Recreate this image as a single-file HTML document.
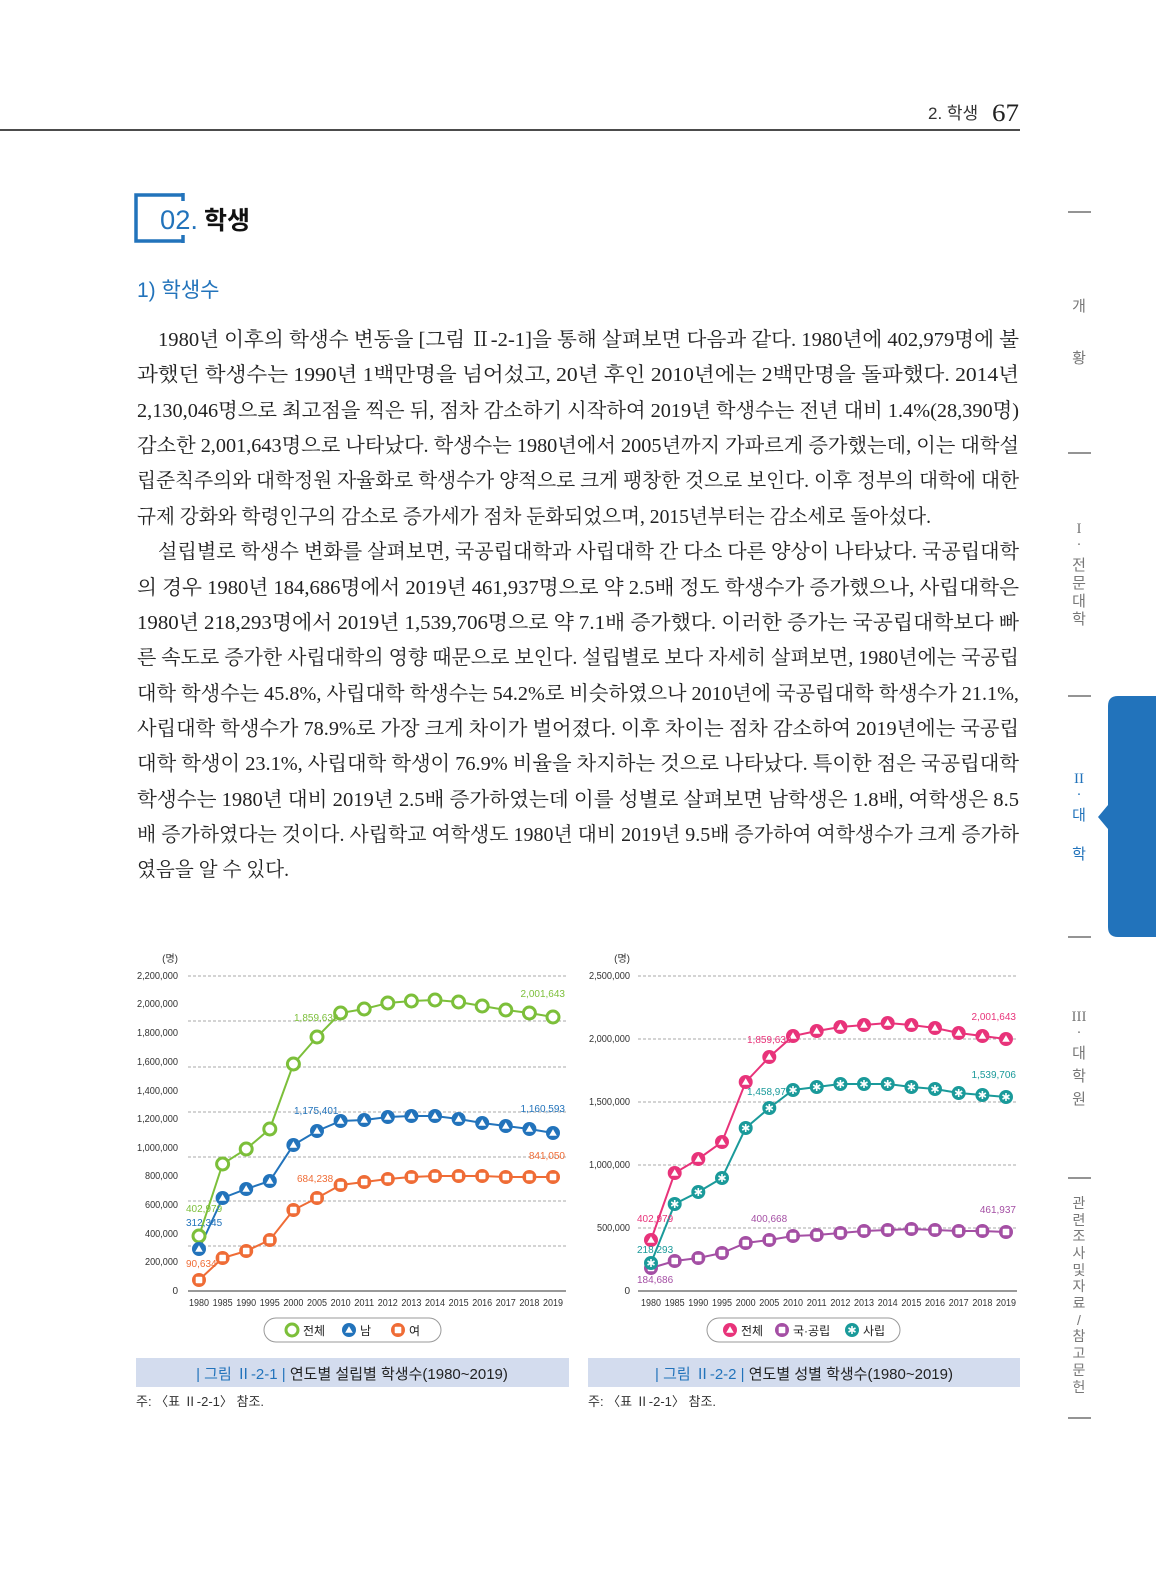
<!DOCTYPE html>
<html><head><meta charset="utf-8"><style>
body{margin:0;background:#fff;}
#p{position:relative;width:1159px;height:1571px;overflow:hidden;background:#fff;font-family:"Liberation Sans","Noto Sans CJK KR",sans-serif;}
.a{position:absolute;}
</style></head><body><div id="p">
<svg class="a" style="left:0;top:0" width="1159" height="1571" xmlns="http://www.w3.org/2000/svg">
<defs>
<g id="mG"><circle r="6" fill="#fff" stroke="#7cbf3a" stroke-width="3"/></g>
<g id="mB"><circle r="7" fill="#2273bb"/><path d="M0,-3.8 L3.8,2.8 L-3.8,2.8Z" fill="#fff"/></g>
<g id="mO"><circle r="7" fill="#ef6c36"/><rect x="-3.3" y="-3.3" width="6.6" height="6.6" rx="1" fill="#fff"/></g>
<g id="mP"><circle r="7" fill="#e8337a"/><path d="M0,-3.8 L3.8,2.8 L-3.8,2.8Z" fill="#fff"/></g>
<g id="mV"><circle r="7" fill="#a44fa4"/><rect x="-3.3" y="-3.3" width="6.6" height="6.6" rx="1" fill="#fff"/></g>
<g id="mT"><circle r="7" fill="#1a9a9a"/><path d="M0,-4V4M-3.5,-2L3.5,2M-3.5,2L3.5,-2" stroke="#fff" stroke-width="1.6"/></g>
</defs>
<line x1="0" y1="130" x2="1020" y2="130" stroke="#111" stroke-width="1.5"/>
<text x="928" y="119" font-size="17" fill="#333" font-family="Liberation Sans,Noto Sans CJK KR,sans-serif">2. 학생</text>
<text x="992" y="121" font-size="25" fill="#222" font-family="Liberation Serif,serif" textLength="27" lengthAdjust="spacingAndGlyphs">67</text>
<path d="M183,195 H136 V241 H183" fill="none" stroke="#2273bb" stroke-width="3.5"/>
<path d="M183,193 v8 M183,243 v-8" stroke="#2273bb" stroke-width="3.5"/>
<text x="160" y="229" font-size="27" fill="#2273bb" textLength="38" lengthAdjust="spacingAndGlyphs">02.</text>
<text x="204" y="229" font-size="25" font-weight="bold" fill="#111">학생</text>
<text x="137" y="297" font-size="21" fill="#2273bb">1) 학생수</text>
<g font-family="Liberation Serif,Noto Serif CJK KR,serif" font-size="20" fill="#222">
<text x="158" y="346" textLength="861" lengthAdjust="spacingAndGlyphs">1980년 이후의 학생수 변동을 [그림 Ⅱ-2-1]을 통해 살펴보면 다음과 같다. 1980년에 402,979명에 불</text>
<text x="137" y="381" textLength="882" lengthAdjust="spacingAndGlyphs">과했던  학생수는  1990년  1백만명을  넘어섰고,  20년  후인  2010년에는  2백만명을  돌파했다.  2014년</text>
<text x="137" y="417" textLength="882" lengthAdjust="spacingAndGlyphs">2,130,046명으로 최고점을 찍은 뒤, 점차 감소하기 시작하여 2019년 학생수는 전년 대비 1.4%(28,390명)</text>
<text x="137" y="452" textLength="882" lengthAdjust="spacingAndGlyphs">감소한 2,001,643명으로 나타났다. 학생수는 1980년에서 2005년까지 가파르게 증가했는데, 이는 대학설</text>
<text x="137" y="487" textLength="882" lengthAdjust="spacingAndGlyphs">립준칙주의와 대학정원 자율화로 학생수가 양적으로 크게 팽창한 것으로 보인다. 이후 정부의 대학에 대한</text>
<text x="137" y="523" textLength="794" lengthAdjust="spacingAndGlyphs">규제 강화와 학령인구의 감소로 증가세가 점차 둔화되었으며, 2015년부터는 감소세로 돌아섰다.</text>
<text x="158" y="558" textLength="861" lengthAdjust="spacingAndGlyphs">설립별로 학생수 변화를 살펴보면, 국공립대학과 사립대학 간 다소 다른 양상이 나타났다. 국공립대학</text>
<text x="137" y="594" textLength="882" lengthAdjust="spacingAndGlyphs">의 경우 1980년 184,686명에서 2019년 461,937명으로 약 2.5배 정도 학생수가 증가했으나, 사립대학은</text>
<text x="137" y="629" textLength="882" lengthAdjust="spacingAndGlyphs">1980년 218,293명에서 2019년 1,539,706명으로 약 7.1배 증가했다. 이러한 증가는 국공립대학보다 빠</text>
<text x="137" y="664" textLength="882" lengthAdjust="spacingAndGlyphs">른 속도로 증가한 사립대학의 영향 때문으로 보인다. 설립별로 보다 자세히 살펴보면, 1980년에는 국공립</text>
<text x="137" y="700" textLength="882" lengthAdjust="spacingAndGlyphs">대학 학생수는 45.8%, 사립대학 학생수는 54.2%로 비슷하였으나 2010년에 국공립대학 학생수가 21.1%,</text>
<text x="137" y="735" textLength="882" lengthAdjust="spacingAndGlyphs">사립대학 학생수가 78.9%로 가장 크게 차이가 벌어졌다. 이후 차이는 점차 감소하여 2019년에는 국공립</text>
<text x="137" y="770" textLength="882" lengthAdjust="spacingAndGlyphs">대학 학생이 23.1%, 사립대학 학생이 76.9% 비율을 차지하는 것으로 나타났다. 특이한 점은 국공립대학</text>
<text x="137" y="806" textLength="882" lengthAdjust="spacingAndGlyphs">학생수는 1980년 대비 2019년 2.5배 증가하였는데 이를 성별로 살펴보면 남학생은 1.8배, 여학생은 8.5</text>
<text x="137" y="841" textLength="882" lengthAdjust="spacingAndGlyphs">배 증가하였다는 것이다. 사립학교 여학생도 1980년 대비 2019년 9.5배 증가하여 여학생수가 크게 증가하</text>
<text x="137" y="876" textLength="152" lengthAdjust="spacingAndGlyphs">였음을 알 수 있다.</text>
</g>
<g stroke="#555" stroke-width="1.3">
<line x1="1068" y1="212" x2="1091" y2="212"/><line x1="1068" y1="453" x2="1091" y2="453"/>
<line x1="1068" y1="696" x2="1091" y2="696"/><line x1="1068" y1="937" x2="1091" y2="937"/>
<line x1="1068" y1="1178" x2="1091" y2="1178"/><line x1="1068" y1="1418" x2="1091" y2="1418"/>
</g>
<path d="M1118,696 H1156 V937 H1118 Q1108,937 1108,927 V829 L1098,817 L1108,805 V706 Q1108,696 1118,696Z" fill="#2273bb"/>
<g font-size="15" fill="#777" text-anchor="middle">
<text x="1079" y="311">개</text><text x="1079" y="363">황</text>
<text x="1079" y="533" font-family="Liberation Serif,serif">I</text><text x="1079" y="548">·</text>
<text x="1079" y="570">전</text><text x="1079" y="588">문</text><text x="1079" y="606">대</text><text x="1079" y="624">학</text>
<text x="1079" y="1021" font-family="Liberation Serif,serif">III</text><text x="1079" y="1036">·</text>
<text x="1079" y="1058">대</text><text x="1079" y="1081">학</text><text x="1079" y="1104">원</text>
</g>
<g font-size="14" fill="#777" text-anchor="middle">
<text x="1079" y="1208">관</text><text x="1079" y="1225">련</text><text x="1079" y="1241">조</text><text x="1079" y="1258">사</text><text x="1079" y="1275">및</text><text x="1079" y="1291">자</text><text x="1079" y="1308">료</text><text x="1079" y="1325">/</text><text x="1079" y="1341">참</text><text x="1079" y="1358">고</text><text x="1079" y="1375">문</text><text x="1079" y="1392">헌</text>
</g>
<g font-size="15" fill="#2273bb" text-anchor="middle">
<text x="1079" y="783" font-family="Liberation Serif,serif">II</text><text x="1079" y="798">·</text>
<text x="1079" y="820">대</text><text x="1079" y="859">학</text>
</g>
<g stroke="#aaa" stroke-width="1" stroke-dasharray="3,2">
<line x1="188" y1="976" x2="566" y2="976"/><line x1="188" y1="1021" x2="566" y2="1021"/>
<line x1="188" y1="1067" x2="566" y2="1067"/><line x1="188" y1="1112" x2="566" y2="1112"/>
<line x1="188" y1="1157" x2="566" y2="1157"/><line x1="188" y1="1201" x2="566" y2="1201"/>
<line x1="188" y1="1246" x2="566" y2="1246"/>
<line x1="638" y1="976" x2="1017" y2="976"/><line x1="638" y1="1039" x2="1017" y2="1039"/>
<line x1="638" y1="1102" x2="1017" y2="1102"/><line x1="638" y1="1165" x2="1017" y2="1165"/>
<line x1="638" y1="1228" x2="1017" y2="1228"/>
</g>
<line x1="188" y1="1291" x2="566" y2="1291" stroke="#999" stroke-width="2"/>
<line x1="638" y1="1291" x2="1017" y2="1291" stroke="#999" stroke-width="2"/>
<g font-size="10" fill="#333" text-anchor="end">
<text x="178" y="962">(명)</text>
<text x="178" y="979" textLength="41" lengthAdjust="spacingAndGlyphs">2,200,000</text>
<text x="178" y="1007" textLength="41" lengthAdjust="spacingAndGlyphs">2,000,000</text>
<text x="178" y="1036" textLength="41" lengthAdjust="spacingAndGlyphs">1,800,000</text>
<text x="178" y="1065" textLength="41" lengthAdjust="spacingAndGlyphs">1,600,000</text>
<text x="178" y="1094" textLength="41" lengthAdjust="spacingAndGlyphs">1,400,000</text>
<text x="178" y="1122" textLength="41" lengthAdjust="spacingAndGlyphs">1,200,000</text>
<text x="178" y="1151" textLength="41" lengthAdjust="spacingAndGlyphs">1,000,000</text>
<text x="178" y="1179" textLength="33" lengthAdjust="spacingAndGlyphs">800,000</text>
<text x="178" y="1208" textLength="33" lengthAdjust="spacingAndGlyphs">600,000</text>
<text x="178" y="1237" textLength="33" lengthAdjust="spacingAndGlyphs">400,000</text>
<text x="178" y="1265" textLength="33" lengthAdjust="spacingAndGlyphs">200,000</text>
<text x="178" y="1294">0</text>
<text x="630" y="962">(명)</text>
<text x="630" y="979" textLength="41" lengthAdjust="spacingAndGlyphs">2,500,000</text>
<text x="630" y="1042" textLength="41" lengthAdjust="spacingAndGlyphs">2,000,000</text>
<text x="630" y="1105" textLength="41" lengthAdjust="spacingAndGlyphs">1,500,000</text>
<text x="630" y="1168" textLength="41" lengthAdjust="spacingAndGlyphs">1,000,000</text>
<text x="630" y="1231" textLength="33" lengthAdjust="spacingAndGlyphs">500,000</text>
<text x="630" y="1294">0</text>
</g>
<g font-size="10" fill="#333" text-anchor="middle">
<text x="199" y="1306" textLength="20" lengthAdjust="spacingAndGlyphs">1980</text><text x="222.6" y="1306" textLength="20" lengthAdjust="spacingAndGlyphs">1985</text><text x="246.2" y="1306" textLength="20" lengthAdjust="spacingAndGlyphs">1990</text><text x="269.8" y="1306" textLength="20" lengthAdjust="spacingAndGlyphs">1995</text><text x="293.4" y="1306" textLength="20" lengthAdjust="spacingAndGlyphs">2000</text><text x="317" y="1306" textLength="20" lengthAdjust="spacingAndGlyphs">2005</text><text x="340.6" y="1306" textLength="20" lengthAdjust="spacingAndGlyphs">2010</text><text x="364.2" y="1306" textLength="20" lengthAdjust="spacingAndGlyphs">2011</text><text x="387.8" y="1306" textLength="20" lengthAdjust="spacingAndGlyphs">2012</text><text x="411.4" y="1306" textLength="20" lengthAdjust="spacingAndGlyphs">2013</text><text x="435" y="1306" textLength="20" lengthAdjust="spacingAndGlyphs">2014</text><text x="458.6" y="1306" textLength="20" lengthAdjust="spacingAndGlyphs">2015</text><text x="482.2" y="1306" textLength="20" lengthAdjust="spacingAndGlyphs">2016</text><text x="505.8" y="1306" textLength="20" lengthAdjust="spacingAndGlyphs">2017</text><text x="529.4" y="1306" textLength="20" lengthAdjust="spacingAndGlyphs">2018</text><text x="553" y="1306" textLength="20" lengthAdjust="spacingAndGlyphs">2019</text>
<text x="651" y="1306" textLength="20" lengthAdjust="spacingAndGlyphs">1980</text><text x="674.7" y="1306" textLength="20" lengthAdjust="spacingAndGlyphs">1985</text><text x="698.3" y="1306" textLength="20" lengthAdjust="spacingAndGlyphs">1990</text><text x="722" y="1306" textLength="20" lengthAdjust="spacingAndGlyphs">1995</text><text x="745.7" y="1306" textLength="20" lengthAdjust="spacingAndGlyphs">2000</text><text x="769.3" y="1306" textLength="20" lengthAdjust="spacingAndGlyphs">2005</text><text x="793" y="1306" textLength="20" lengthAdjust="spacingAndGlyphs">2010</text><text x="816.7" y="1306" textLength="20" lengthAdjust="spacingAndGlyphs">2011</text><text x="840.4" y="1306" textLength="20" lengthAdjust="spacingAndGlyphs">2012</text><text x="864" y="1306" textLength="20" lengthAdjust="spacingAndGlyphs">2013</text><text x="887.7" y="1306" textLength="20" lengthAdjust="spacingAndGlyphs">2014</text><text x="911.4" y="1306" textLength="20" lengthAdjust="spacingAndGlyphs">2015</text><text x="935" y="1306" textLength="20" lengthAdjust="spacingAndGlyphs">2016</text><text x="958.7" y="1306" textLength="20" lengthAdjust="spacingAndGlyphs">2017</text><text x="982.4" y="1306" textLength="20" lengthAdjust="spacingAndGlyphs">2018</text><text x="1006" y="1306" textLength="20" lengthAdjust="spacingAndGlyphs">2019</text>
</g>
<polyline fill="none" stroke="#7cbf3a" stroke-width="2" points="199,1236 222.6,1164 246.2,1149 269.8,1129 293.4,1064 317,1037 340.6,1013 364.2,1009 387.8,1003 411.4,1001 435,1000 458.6,1002 482.2,1006 505.8,1010 529.4,1013 553,1017"/>
<polyline fill="none" stroke="#2273bb" stroke-width="2" points="199,1249 222.6,1198 246.2,1189 269.8,1181 293.4,1145 317,1131 340.6,1121 364.2,1120 387.8,1117 411.4,1116 435,1116 458.6,1119 482.2,1123 505.8,1126 529.4,1129 553,1133"/>
<polyline fill="none" stroke="#ef6c36" stroke-width="2" points="199,1280 222.6,1258 246.2,1251 269.8,1240 293.4,1210 317,1198 340.6,1185 364.2,1182 387.8,1179 411.4,1177 435,1176 458.6,1176 482.2,1176 505.8,1177 529.4,1177 553,1177"/>
<g>
<use href="#mG" x="199" y="1236"/><use href="#mG" x="222.6" y="1164"/><use href="#mG" x="246.2" y="1149"/><use href="#mG" x="269.8" y="1129"/><use href="#mG" x="293.4" y="1064"/><use href="#mG" x="317" y="1037"/><use href="#mG" x="340.6" y="1013"/><use href="#mG" x="364.2" y="1009"/><use href="#mG" x="387.8" y="1003"/><use href="#mG" x="411.4" y="1001"/><use href="#mG" x="435" y="1000"/><use href="#mG" x="458.6" y="1002"/><use href="#mG" x="482.2" y="1006"/><use href="#mG" x="505.8" y="1010"/><use href="#mG" x="529.4" y="1013"/><use href="#mG" x="553" y="1017"/>
<use href="#mB" x="199" y="1249"/><use href="#mB" x="222.6" y="1198"/><use href="#mB" x="246.2" y="1189"/><use href="#mB" x="269.8" y="1181"/><use href="#mB" x="293.4" y="1145"/><use href="#mB" x="317" y="1131"/><use href="#mB" x="340.6" y="1121"/><use href="#mB" x="364.2" y="1120"/><use href="#mB" x="387.8" y="1117"/><use href="#mB" x="411.4" y="1116"/><use href="#mB" x="435" y="1116"/><use href="#mB" x="458.6" y="1119"/><use href="#mB" x="482.2" y="1123"/><use href="#mB" x="505.8" y="1126"/><use href="#mB" x="529.4" y="1129"/><use href="#mB" x="553" y="1133"/>
<use href="#mO" x="199" y="1280"/><use href="#mO" x="222.6" y="1258"/><use href="#mO" x="246.2" y="1251"/><use href="#mO" x="269.8" y="1240"/><use href="#mO" x="293.4" y="1210"/><use href="#mO" x="317" y="1198"/><use href="#mO" x="340.6" y="1185"/><use href="#mO" x="364.2" y="1182"/><use href="#mO" x="387.8" y="1179"/><use href="#mO" x="411.4" y="1177"/><use href="#mO" x="435" y="1176"/><use href="#mO" x="458.6" y="1176"/><use href="#mO" x="482.2" y="1176"/><use href="#mO" x="505.8" y="1177"/><use href="#mO" x="529.4" y="1177"/><use href="#mO" x="553" y="1177"/>
</g>
<g font-size="10">
<text x="186" y="1212" fill="#7cbf3a">402,979</text>
<text x="186" y="1226" fill="#2273bb">312,345</text>
<text x="186" y="1267" fill="#ef6c36">90,634</text>
<text x="294" y="1021" fill="#7cbf3a">1,859,639</text>
<text x="294" y="1114" fill="#2273bb">1,175,401</text>
<text x="297" y="1182" fill="#ef6c36">684,238</text>
<text x="565" y="997" fill="#7cbf3a" text-anchor="end">2,001,643</text>
<text x="565" y="1112" fill="#2273bb" text-anchor="end">1,160,593</text>
<text x="565" y="1159" fill="#ef6c36" text-anchor="end">841,050</text>
</g>
<polyline fill="none" stroke="#e8337a" stroke-width="2" points="651,1240 674.7,1173 698.3,1159 722,1142 745.7,1082 769.3,1057 793,1036 816.7,1031 840.4,1027 864,1025 887.7,1023 911.4,1025 935,1028 958.7,1033 982.4,1036 1006,1039"/>
<polyline fill="none" stroke="#a44fa4" stroke-width="2" points="651,1268 674.7,1261 698.3,1258 722,1253 745.7,1243 769.3,1240 793,1236 816.7,1235 840.4,1233 864,1231 887.7,1230 911.4,1229 935,1230 958.7,1231 982.4,1231 1006,1232"/>
<polyline fill="none" stroke="#1a9a9a" stroke-width="2" points="651,1263 674.7,1204 698.3,1192 722,1178 745.7,1128 769.3,1108 793,1090 816.7,1087 840.4,1084 864,1084 887.7,1084 911.4,1087 935,1089 958.7,1093 982.4,1095 1006,1097"/>
<g>
<use href="#mV" x="651" y="1268"/><use href="#mV" x="674.7" y="1261"/><use href="#mV" x="698.3" y="1258"/><use href="#mV" x="722" y="1253"/><use href="#mV" x="745.7" y="1243"/><use href="#mV" x="769.3" y="1240"/><use href="#mV" x="793" y="1236"/><use href="#mV" x="816.7" y="1235"/><use href="#mV" x="840.4" y="1233"/><use href="#mV" x="864" y="1231"/><use href="#mV" x="887.7" y="1230"/><use href="#mV" x="911.4" y="1229"/><use href="#mV" x="935" y="1230"/><use href="#mV" x="958.7" y="1231"/><use href="#mV" x="982.4" y="1231"/><use href="#mV" x="1006" y="1232"/>
<use href="#mP" x="651" y="1240"/><use href="#mP" x="674.7" y="1173"/><use href="#mP" x="698.3" y="1159"/><use href="#mP" x="722" y="1142"/><use href="#mP" x="745.7" y="1082"/><use href="#mP" x="769.3" y="1057"/><use href="#mP" x="793" y="1036"/><use href="#mP" x="816.7" y="1031"/><use href="#mP" x="840.4" y="1027"/><use href="#mP" x="864" y="1025"/><use href="#mP" x="887.7" y="1023"/><use href="#mP" x="911.4" y="1025"/><use href="#mP" x="935" y="1028"/><use href="#mP" x="958.7" y="1033"/><use href="#mP" x="982.4" y="1036"/><use href="#mP" x="1006" y="1039"/>
<use href="#mT" x="651" y="1263"/><use href="#mT" x="674.7" y="1204"/><use href="#mT" x="698.3" y="1192"/><use href="#mT" x="722" y="1178"/><use href="#mT" x="745.7" y="1128"/><use href="#mT" x="769.3" y="1108"/><use href="#mT" x="793" y="1090"/><use href="#mT" x="816.7" y="1087"/><use href="#mT" x="840.4" y="1084"/><use href="#mT" x="864" y="1084"/><use href="#mT" x="887.7" y="1084"/><use href="#mT" x="911.4" y="1087"/><use href="#mT" x="935" y="1089"/><use href="#mT" x="958.7" y="1093"/><use href="#mT" x="982.4" y="1095"/><use href="#mT" x="1006" y="1097"/>
</g>
<g font-size="10">
<text x="637" y="1222" fill="#e8337a">402,979</text>
<text x="637" y="1253" fill="#1a9a9a">218,293</text>
<text x="637" y="1283" fill="#a44fa4">184,686</text>
<text x="747" y="1043" fill="#e8337a">1,859,639</text>
<text x="747" y="1095" fill="#1a9a9a">1,458,971</text>
<text x="751" y="1222" fill="#a44fa4">400,668</text>
<text x="1016" y="1020" fill="#e8337a" text-anchor="end">2,001,643</text>
<text x="1016" y="1078" fill="#1a9a9a" text-anchor="end">1,539,706</text>
<text x="1016" y="1213" fill="#a44fa4" text-anchor="end">461,937</text>
</g>
<rect x="264" y="1318" width="177" height="24" rx="12" fill="#fff" stroke="#999"/>
<use href="#mG" x="292" y="1330"/><text x="303" y="1335" font-size="12" fill="#222">전체</text>
<use href="#mB" x="349" y="1330"/><text x="360" y="1335" font-size="12" fill="#222">남</text>
<use href="#mO" x="398" y="1330"/><text x="409" y="1335" font-size="12" fill="#222">여</text>
<rect x="707" y="1318" width="193" height="24" rx="12" fill="#fff" stroke="#999"/>
<use href="#mP" x="730" y="1330"/><text x="741" y="1335" font-size="12" fill="#222">전체</text>
<use href="#mV" x="782" y="1330"/><text x="793" y="1335" font-size="12" fill="#222">국·공립</text>
<use href="#mT" x="852" y="1330"/><text x="863" y="1335" font-size="12" fill="#222">사립</text>
<rect x="136" y="1358" width="433" height="29" fill="#d3dcee"/>
<rect x="588" y="1358" width="432" height="29" fill="#d3dcee"/>
<text x="352" y="1379" font-size="15" text-anchor="middle" fill="#222"><tspan fill="#2273bb">| 그림 Ⅱ-2-1 | </tspan>연도별 설립별 학생수(1980~2019)</text>
<text x="804" y="1379" font-size="15" text-anchor="middle" fill="#222"><tspan fill="#2273bb">| 그림 Ⅱ-2-2 | </tspan>연도별 성별 학생수(1980~2019)</text>
<text x="136" y="1406" font-size="13" fill="#333">주: 〈표 Ⅱ-2-1〉 참조.</text>
<text x="588" y="1406" font-size="13" fill="#333">주: 〈표 Ⅱ-2-1〉 참조.</text>
</svg>
</div></body></html>
